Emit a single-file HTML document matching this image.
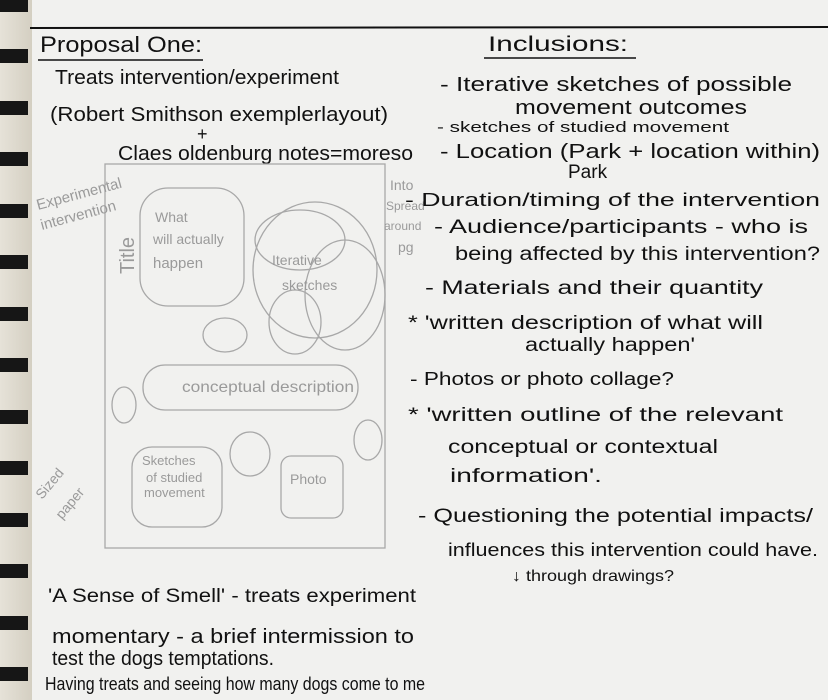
<!DOCTYPE html>
<html><head><meta charset="utf-8"><style>
html,body{margin:0;padding:0;background:#f1f1ef}
svg{display:block}
text{font-family:"Liberation Sans",sans-serif;fill:#111}
.p{fill:#9a9a9a}
</style></head><body>
<svg width="828" height="700" viewBox="0 0 828 700" xmlns="http://www.w3.org/2000/svg">
<defs><linearGradient id="g" x1="0" x2="1"><stop offset="0" stop-color="#e6e2d8"/><stop offset="1" stop-color="#d4cfc2"/></linearGradient></defs>
<rect width="828" height="700" fill="#f1f1ef"/>
<rect x="0" y="0" width="32" height="700" fill="url(#g)"/>
<g fill="#161616">
<rect x="0" y="-2" width="28" height="14"/><rect x="0" y="49" width="28" height="14"/><rect x="0" y="101" width="28" height="14"/><rect x="0" y="152" width="28" height="14"/><rect x="0" y="204" width="28" height="14"/><rect x="0" y="255" width="28" height="14"/><rect x="0" y="307" width="28" height="14"/><rect x="0" y="358" width="28" height="14"/><rect x="0" y="410" width="28" height="14"/><rect x="0" y="461" width="28" height="14"/><rect x="0" y="513" width="28" height="14"/><rect x="0" y="564" width="28" height="14"/><rect x="0" y="616" width="28" height="14"/><rect x="0" y="667" width="28" height="14"/>
</g>
<line x1="30" y1="28" x2="828" y2="27" stroke="#111" stroke-width="2"/>
<g lengthAdjust="spacingAndGlyphs">
<text x="40" y="52" font-size="22" textLength="162" lengthAdjust="spacingAndGlyphs">Proposal One:</text>
<line x1="38" y1="60" x2="203" y2="60" stroke="#111" stroke-width="1.5"/>
<text x="55" y="84" font-size="20" textLength="284" lengthAdjust="spacingAndGlyphs">Treats intervention/experiment</text>
<text x="50" y="121" font-size="20" textLength="338" lengthAdjust="spacingAndGlyphs">(Robert Smithson exemplerlayout)</text>
<text x="197" y="140" font-size="18">+</text>
<text x="118" y="160" font-size="20" textLength="295" lengthAdjust="spacingAndGlyphs">Claes oldenburg notes=moreso</text>
</g>
<g fill="none" stroke="#a8a8a8" stroke-width="1.3">
<rect x="105" y="164" width="280" height="384"/>
<rect x="140" y="188" width="104" height="118" rx="28"/>
<ellipse cx="315" cy="270" rx="62" ry="68"/>
<ellipse cx="300" cy="240" rx="45" ry="30"/>
<ellipse cx="345" cy="295" rx="40" ry="55"/>
<ellipse cx="295" cy="322" rx="26" ry="32"/>
<ellipse cx="225" cy="335" rx="22" ry="17"/>
<rect x="143" y="365" width="215" height="45" rx="22"/>
<ellipse cx="124" cy="405" rx="12" ry="18"/>
<ellipse cx="250" cy="454" rx="20" ry="22"/>
<ellipse cx="368" cy="440" rx="14" ry="20"/>
<rect x="132" y="447" width="90" height="80" rx="20"/>
<rect x="281" y="456" width="62" height="62" rx="10"/>
</g>
<text class="p" x="155" y="222" font-size="14">What</text>
<text class="p" x="153" y="244" font-size="14">will actually</text>
<text class="p" x="153" y="268" font-size="15">happen</text>
<text class="p" x="272" y="265" font-size="14">Iterative</text>
<text class="p" x="282" y="290" font-size="14">sketches</text>
<text class="p" x="182" y="392" font-size="16" textLength="172" lengthAdjust="spacingAndGlyphs">conceptual description</text>
<text class="p" x="142" y="465" font-size="13">Sketches</text>
<text class="p" x="146" y="482" font-size="13">of studied</text>
<text class="p" x="144" y="497" font-size="13">movement</text>
<text class="p" x="290" y="484" font-size="14">Photo</text>
<text class="p" font-size="20" transform="translate(134,274) rotate(-90)">Title</text>
<text class="p" x="38" y="210" font-size="15" transform="rotate(-15 38 210)">Experimental</text>
<text class="p" x="42" y="230" font-size="15" transform="rotate(-15 42 230)">intervention</text>
<text class="p" x="42" y="500" font-size="14" transform="rotate(-50 42 500)">Sized</text>
<text class="p" x="62" y="520" font-size="14" transform="rotate(-50 62 520)">paper</text>
<text class="p" x="390" y="190" font-size="14">Into</text>
<text class="p" x="386" y="210" font-size="12">Spread</text>
<text class="p" x="384" y="230" font-size="12">around</text>
<text class="p" x="398" y="252" font-size="14">pg</text>
<text x="48" y="602" font-size="19" textLength="368" lengthAdjust="spacingAndGlyphs">'A Sense of Smell' - treats experiment</text>
<text x="52" y="643" font-size="20" textLength="362" lengthAdjust="spacingAndGlyphs">momentary - a brief intermission to</text>
<text x="52" y="665" font-size="20" textLength="222" lengthAdjust="spacingAndGlyphs">test the dogs temptations.</text>
<text x="45" y="690" font-size="18" textLength="380" lengthAdjust="spacingAndGlyphs">Having treats and seeing how many dogs come to me</text>
<text x="488" y="51" font-size="21" textLength="140" lengthAdjust="spacingAndGlyphs">Inclusions:</text>
<line x1="484" y1="58" x2="636" y2="58" stroke="#111" stroke-width="1.5"/>
<text x="440" y="91" font-size="20" textLength="352" lengthAdjust="spacingAndGlyphs">- Iterative sketches of possible</text>
<text x="515" y="114" font-size="20" textLength="232" lengthAdjust="spacingAndGlyphs">movement outcomes</text>
<text x="437" y="132" font-size="15" textLength="292" lengthAdjust="spacingAndGlyphs">- sketches of studied movement</text>
<text x="440" y="158" font-size="20" textLength="380" lengthAdjust="spacingAndGlyphs">- Location (Park + location within)</text>
<text x="568" y="178" font-size="19">Park</text>
<text x="405" y="206" font-size="18" textLength="415" lengthAdjust="spacingAndGlyphs">- Duration/timing of the intervention</text>
<text x="434" y="233" font-size="19" textLength="374" lengthAdjust="spacingAndGlyphs">- Audience/participants - who is</text>
<text x="455" y="260" font-size="19" textLength="365" lengthAdjust="spacingAndGlyphs">being affected by this intervention?</text>
<text x="425" y="294" font-size="19" textLength="338" lengthAdjust="spacingAndGlyphs">- Materials and their quantity</text>
<text x="408" y="329" font-size="19" textLength="355" lengthAdjust="spacingAndGlyphs">* 'written description of what will</text>
<text x="525" y="351" font-size="19" textLength="170" lengthAdjust="spacingAndGlyphs">actually happen'</text>
<text x="410" y="385" font-size="18" textLength="264" lengthAdjust="spacingAndGlyphs">- Photos or photo collage?</text>
<text x="408" y="421" font-size="19" textLength="375" lengthAdjust="spacingAndGlyphs">* 'written outline of the relevant</text>
<text x="448" y="453" font-size="19" textLength="270" lengthAdjust="spacingAndGlyphs">conceptual or contextual</text>
<text x="450" y="482" font-size="19" textLength="152" lengthAdjust="spacingAndGlyphs">information'.</text>
<text x="418" y="522" font-size="19" textLength="395" lengthAdjust="spacingAndGlyphs">- Questioning the potential impacts/</text>
<text x="448" y="556" font-size="18" textLength="370" lengthAdjust="spacingAndGlyphs">influences this intervention could have.</text>
<text x="512" y="581" font-size="16" textLength="162" lengthAdjust="spacingAndGlyphs">↓ through drawings?</text>
</svg>
</body></html>
